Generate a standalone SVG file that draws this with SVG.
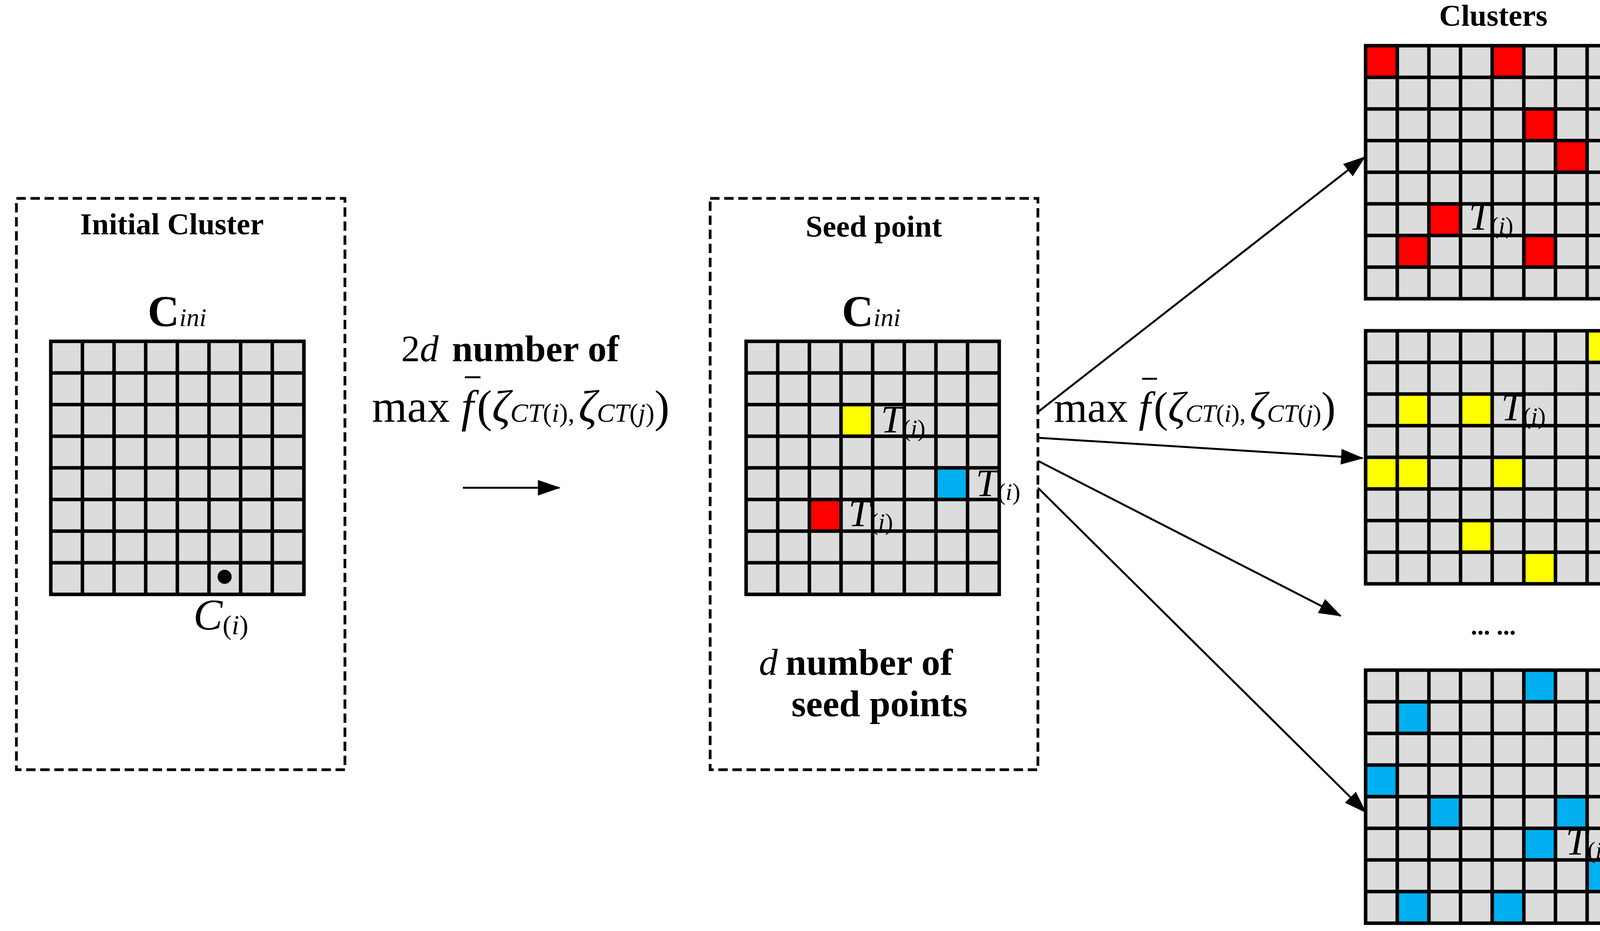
<svg xmlns="http://www.w3.org/2000/svg" xmlns:xlink="http://www.w3.org/1999/xlink" width="4353" height="2384" viewBox="0 0 4353 2384">
<style>
text{font-family:"Liberation Serif","Times New Roman",serif;fill:#000}
.b{font-weight:bold}
.i{font-style:italic}
.box{fill:none;stroke:#000;stroke-width:7;stroke-dasharray:24 12}
.bg{fill:#dcdcdc}
.gl{fill:none;stroke:#000;stroke-width:9}
.con{fill:none;stroke:#000;stroke-width:5}
.r{fill:#ff0000}.y{fill:#ffff00}.c{fill:#00b0f0}
</style>
<defs>
<marker id="ah" viewBox="0 0 60 40" refX="55" refY="20" markerWidth="60" markerHeight="40" markerUnits="userSpaceOnUse" orient="auto">
<path d="M0,0 L58,20 L0,40 Z" fill="#000"/>
</marker>
<path id="lines" class="gl" d="M0,0H648V648H0Z M81,0V648 M162,0V648 M243,0V648 M324,0V648 M405,0V648 M486,0V648 M567,0V648 M0,81H648 M0,162H648 M0,243H648 M0,324H648 M0,405H648 M0,486H648 M0,567H648"/>
</defs>

<g id="initial-cluster">
<rect class="box" x="42" y="508" width="841" height="1463"/>
<text class="b" x="440" y="600" font-size="78" text-anchor="middle">Initial Cluster</text>
<text x="378" y="835" font-size="112" class="b">C<tspan class="i" font-weight="normal" font-size="66">ini</tspan></text>
<g transform="translate(130,874)">
<rect class="bg" width="648" height="648"/>
<use xlink:href="#lines"/>
<circle cx="445" cy="603" r="18" fill="#000"/>
</g>
<text x="495" y="1612" font-size="112" class="i">C<tspan font-style="normal" font-size="70" dy="12">(</tspan><tspan font-size="70">i</tspan><tspan font-style="normal" font-size="70">)</tspan></text>
</g>

<g id="label-2d">
<text x="1027" y="925" font-size="96"><tspan>2</tspan><tspan class="i">d</tspan><tspan class="b" dx="34">number of</tspan></text>
<text x="952" y="1080" font-size="116">max <tspan class="i">f</tspan><tspan dx="8">(</tspan><tspan class="i">ζ</tspan><tspan class="i" font-size="68">CT</tspan><tspan font-size="68">(<tspan class="i">i</tspan>),</tspan><tspan class="i" dx="10">ζ</tspan><tspan class="i" font-size="68">CT</tspan><tspan font-size="68">(<tspan class="i">j</tspan>)</tspan><tspan>)</tspan></text>
<line x1="1190" y1="966" x2="1230" y2="966" stroke="#000" stroke-width="5"/>
</g>

<g id="seed-point">
<rect class="box" x="1818" y="508" width="839" height="1463"/>
<text class="b" x="2237" y="606" font-size="78" text-anchor="middle">Seed point</text>
<text x="2155" y="835" font-size="112" class="b">C<tspan class="i" font-weight="normal" font-size="66">ini</tspan></text>
<g transform="translate(1910,874)">
<rect class="bg" width="648" height="648"/>
<rect class="y" x="243" y="162" width="81" height="81"/>
<rect class="c" x="486" y="324" width="81" height="81"/>
<rect class="r" x="162" y="405" width="81" height="81"/>
<use xlink:href="#lines"/>
</g>
<text x="2255" y="1107" font-size="100" class="i">T<tspan font-style="normal" font-size="62" dy="10">(</tspan><tspan font-size="62">i</tspan><tspan font-style="normal" font-size="62">)</tspan></text>
<text x="2498" y="1270" font-size="100" class="i">T<tspan font-style="normal" font-size="62" dy="10">(</tspan><tspan font-size="62">i</tspan><tspan font-style="normal" font-size="62">)</tspan></text>
<text x="2172" y="1347" font-size="100" class="i">T<tspan font-style="normal" font-size="62" dy="10">(</tspan><tspan font-size="62">i</tspan><tspan font-style="normal" font-size="62">)</tspan></text>
<text x="1943" y="1728" font-size="96"><tspan class="i">d</tspan><tspan class="b" dx="20">number of</tspan></text>
<text class="b" x="2026" y="1834" font-size="96">seed points</text>
</g>

<g id="connectors">
<line class="con" x1="1185" y1="1249" x2="1432" y2="1249" marker-end="url(#ah)"/>
<line class="con" x1="2657" y1="1055" x2="3494" y2="402" marker-end="url(#ah)"/>
<line class="con" x1="2657" y1="1121" x2="3488" y2="1173" marker-end="url(#ah)"/>
<line class="con" x1="2657" y1="1180" x2="3432" y2="1577" marker-end="url(#ah)"/>
<line class="con" x1="2657" y1="1249" x2="3496" y2="2080" marker-end="url(#ah)"/>
</g>

<g id="label-max">
<text x="2698" y="1080" font-size="110">max <tspan class="i">f</tspan><tspan dx="8">(</tspan><tspan class="i">ζ</tspan><tspan class="i" font-size="64">CT</tspan><tspan font-size="64">(<tspan class="i">i</tspan>),</tspan><tspan class="i" dx="10">ζ</tspan><tspan class="i" font-size="64">CT</tspan><tspan font-size="64">(<tspan class="i">j</tspan>)</tspan><tspan>)</tspan></text>
<line x1="2924" y1="970" x2="2962" y2="970" stroke="#000" stroke-width="5"/>
</g>

<text class="b" x="3823" y="66" font-size="78" text-anchor="middle">Clusters</text>

<g id="cluster-1">
<g transform="translate(3496,117)">
<rect class="bg" width="648" height="648"/>
<rect class="r" x="0" y="0" width="81" height="81"/>
<rect class="r" x="324" y="0" width="81" height="81"/>
<rect class="r" x="405" y="162" width="81" height="81"/>
<rect class="r" x="486" y="243" width="81" height="81"/>
<rect class="r" x="162" y="405" width="81" height="81"/>
<rect class="r" x="81" y="486" width="81" height="81"/>
<rect class="r" x="405" y="486" width="81" height="81"/>
<use xlink:href="#lines"/>
</g>
<text x="3760" y="588" font-size="100" class="i">T<tspan font-style="normal" font-size="62" dy="10">(</tspan><tspan font-size="62">i</tspan><tspan font-style="normal" font-size="62">)</tspan></text>
<text x="4160" y="478" font-size="106" class="b">C<tspan font-weight="normal" font-size="64" dy="6">(1)</tspan></text>
</g>

<g id="cluster-2">
<g transform="translate(3496,847)">
<rect class="bg" width="648" height="648"/>
<rect class="y" x="567" y="0" width="81" height="81"/>
<rect class="y" x="81" y="162" width="81" height="81"/>
<rect class="y" x="243" y="162" width="81" height="81"/>
<rect class="y" x="0" y="324" width="81" height="81"/>
<rect class="y" x="81" y="324" width="81" height="81"/>
<rect class="y" x="324" y="324" width="81" height="81"/>
<rect class="y" x="243" y="486" width="81" height="81"/>
<rect class="y" x="405" y="567" width="81" height="81"/>
<use xlink:href="#lines"/>
</g>
<text x="3843" y="1076" font-size="100" class="i">T<tspan font-style="normal" font-size="62" dy="10">(</tspan><tspan font-size="62">i</tspan><tspan font-style="normal" font-size="62">)</tspan></text>
<text x="4160" y="1213" font-size="106" class="b">C<tspan font-weight="normal" font-size="64" dy="6">(2)</tspan></text>
</g>

<text x="3823" y="1625" font-size="66" text-anchor="middle" class="b">... ...</text>

<g id="cluster-d">
<g transform="translate(3496,1716)">
<rect class="bg" width="648" height="648"/>
<rect class="c" x="405" y="0" width="81" height="81"/>
<rect class="c" x="81" y="81" width="81" height="81"/>
<rect class="c" x="0" y="243" width="81" height="81"/>
<rect class="c" x="162" y="324" width="81" height="81"/>
<rect class="c" x="486" y="324" width="81" height="81"/>
<rect class="c" x="405" y="405" width="81" height="81"/>
<rect class="c" x="567" y="486" width="81" height="81"/>
<rect class="c" x="81" y="567" width="81" height="81"/>
<rect class="c" x="324" y="567" width="81" height="81"/>
<use xlink:href="#lines"/>
</g>
<text x="4008" y="2188" font-size="100" class="i">T<tspan font-style="normal" font-size="62" dy="10">(</tspan><tspan font-size="62">i</tspan><tspan font-style="normal" font-size="62">)</tspan></text>
<text x="4154" y="2076" font-size="106" class="b">C<tspan font-weight="normal" font-size="64" dy="6">(<tspan class="i">d</tspan>)</tspan></text>
</g>
</svg>
